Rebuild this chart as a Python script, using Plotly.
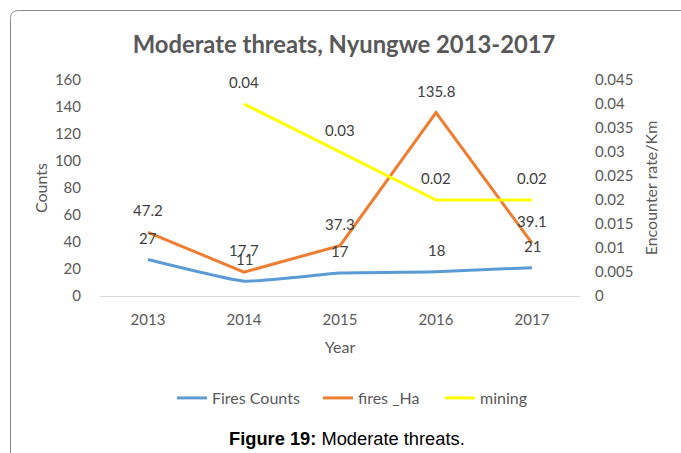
import plotly.graph_objects as go

# Data
years = [2013, 2014, 2015, 2016, 2017]
fires_counts = [27, 11, 17, 18, 21]
fires_ha = [47.2, 17.7, 37.3, 135.8, 39.1]
mining_years = [2014, 2015, 2016, 2017]
mining_rate = [0.04, 0.03, 0.02, 0.02]

BLUE = "#5B9BD5"
ORANGE = "#ED7D31"
YELLOW = "#FFFF00"
AXIS_TXT = "#595959"
LABEL_TXT = "#404040"
FONT = "Lato, Open Sans, sans-serif"

# Plot-area geometry in pixels
L, R, T, B = 100, 580, 80, 296
W, H = R - L, B - T
def px(x):
    return (x - L) / W
def py(y):
    return (B - y) / H

fig = go.Figure()

fig.add_trace(go.Scatter(
    x=years, y=fires_counts, name="Fires Counts", mode="lines",
    line=dict(color=BLUE, width=3, shape="spline", smoothing=0.4),
    legend="legend",
))
fig.add_trace(go.Scatter(
    x=years, y=fires_ha, name="fires _Ha", mode="lines",
    line=dict(color=ORANGE, width=3), legend="legend2",
))
fig.add_trace(go.Scatter(
    x=mining_years, y=mining_rate, name="mining", mode="lines",
    line=dict(color=YELLOW, width=3), yaxis="y2", legend="legend3",
))

# Value labels above each point
def add_labels(xs, ys, yref):
    for xv, yv in zip(xs, ys):
        fig.add_annotation(
            x=xv, y=yv, xref="x", yref=yref, text=f"{yv:g}", showarrow=False,
            yshift=22, font=dict(family=FONT, size=15, color=LABEL_TXT),
        )

add_labels(years, fires_counts, "y")
add_labels(years, fires_ha, "y")
add_labels(mining_years, mining_rate, "y2")

# Chart frame (rounded corner at top-left), in paper units
r = 8
x0, x1, y0, y1 = 10.5, 700, 10.5, 470
path = (
    f"M {px(x0)},{py(y1)} L {px(x0)},{py(y0 + r)} "
    f"Q {px(x0)},{py(y0)} {px(x0 + r)},{py(y0)} "
    f"L {px(x1)},{py(y0)}"
)
fig.add_shape(type="path", path=path, xref="paper", yref="paper",
              line=dict(color="#8c8c8c", width=1))

# Caption
fig.add_annotation(
    x=px(347), y=py(438), xref="paper", yref="paper", showarrow=False,
    xanchor="center", yanchor="middle",
    text="<b>Figure 19:</b> Moderate threats.",
    font=dict(family="Liberation Sans, Arial, sans-serif", size=18.3, color="#000000"),
)

legend_font = dict(family=FONT, size=16, color=AXIS_TXT)
def legend_box(x_pixel):
    return dict(orientation="h", x=px(x_pixel), xanchor="left",
                y=py(398), yanchor="middle", font=legend_font,
                bgcolor="rgba(0,0,0,0)")

fig.update_layout(
    width=681, height=453,
    margin=dict(l=L, r=681 - R, t=T, b=453 - B),
    paper_bgcolor="white", plot_bgcolor="white",
    title=dict(
        text="<b>Moderate threats, Nyungwe 2013-2017</b>",
        x=344 / 681, xanchor="center", y=1 - 45 / 453, yanchor="middle",
        font=dict(family=FONT, size=23.8, color=AXIS_TXT),
    ),
    xaxis=dict(
        range=[2012.5, 2017.5], tickvals=years,
        showline=True, linecolor="#d9d9d9", linewidth=1,
        showgrid=False, zeroline=False, ticks="", ticklabelstandoff=10,
        tickfont=dict(family=FONT, size=15, color=AXIS_TXT),
        title=dict(text="Year", standoff=14,
                   font=dict(family=FONT, size=16, color=AXIS_TXT)),
    ),
    yaxis=dict(
        range=[0, 160], dtick=20, showgrid=False, zeroline=False,
        showline=False, ticks="", ticklabelstandoff=18,
        tickfont=dict(family=FONT, size=15, color=AXIS_TXT),
        title=dict(text="Counts", standoff=3,
                   font=dict(family=FONT, size=16, color=AXIS_TXT)),
    ),
    yaxis2=dict(
        overlaying="y", side="right", range=[0, 0.045], dtick=0.005,
        showgrid=False, zeroline=False, showline=False, ticks="",
        ticklabelstandoff=14,
        tickfont=dict(family=FONT, size=15, color=AXIS_TXT),
        title=dict(text="Encounter rate/Km", standoff=13,
                   font=dict(family=FONT, size=16, color=AXIS_TXT)),
    ),
    legend=legend_box(172),
    legend2=legend_box(318),
    legend3=legend_box(440),
    showlegend=True,
)

fig.write_html("out.html")
